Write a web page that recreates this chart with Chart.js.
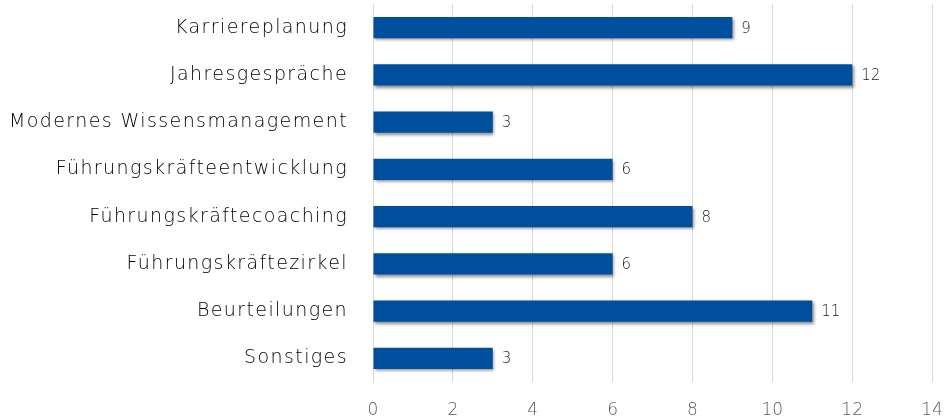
<!DOCTYPE html>
<html><head><meta charset="utf-8">
<script src="https://cdn.jsdelivr.net/npm/chart.js@4"></script>
<style>html,body{margin:0;padding:0;background:#fff}#w{width:945px;height:420px}</style>
</head><body><div id="w"><canvas id="c"></canvas></div>
<script>
const categories = ["Karriereplanung","Jahresgespräche","Modernes Wissensmanagement","Führungskräfteentwicklung","Führungskräftecoaching","Führungskräftezirkel","Beurteilungen","Sonstiges"];
const values = [9,12,3,6,8,6,11,3];
const xTicks = [0,2,4,6,8,10,12,14];

const shadowPlugin = {
  id:'shadow',
  beforeDatasetDraw(chart){const c=chart.ctx;c.save();c.shadowColor='rgba(0,0,0,0.45)';c.shadowBlur=3;c.shadowOffsetX=1.5;c.shadowOffsetY=2;},
  afterDatasetDraw(chart){chart.ctx.restore();}
};
const labelPlugin = {
  id:'vals',
  afterDatasetsDraw(chart){
    const c=chart.ctx, meta=chart.getDatasetMeta(0);
    c.save();c.font='200 15px "DejaVu Sans"';c.fillStyle='#222222';c.textBaseline='middle';c.textAlign='left';
    meta.data.forEach((b,i)=>{c.fillText(String(values[i]), b.x+9, b.y+1);});
    c.restore();
  }
};
function spaced(s, px){
  if (s._spacedPatched) return;
  const orig = Object.getPrototypeOf(s).drawLabels;
  s.drawLabels = function(area){
    const c=this.ctx; c.save(); c.letterSpacing=px; orig.call(this,area); c.restore();
  };
  s._spacedPatched = true;
}
new Chart(document.getElementById('c'),{
  type:'bar',
  data:{labels:categories,datasets:[{data:values,backgroundColor:'#004f9f',barPercentage:0.9,categoryPercentage:0.5}]},
  options:{
    indexAxis:'y',responsive:true,maintainAspectRatio:false,animation:false,
    layout:{padding:{top:4,right:13,bottom:0,left:0}},
    plugins:{legend:{display:false},tooltip:{enabled:false}},
    scales:{
      x:{min:0,max:14,afterBuildTicks(s){s.ticks=xTicks.map(v=>({value:v}));},
         afterFit(s){s.height=38;s.paddingLeft=0;s.paddingRight=0;},
         border:{display:false},
         grid:{color:'#d9d9d9',drawTicks:false},
         ticks:{padding:18,color:'#595959',maxRotation:0,font:{family:'DejaVu Sans',size:17,weight:'200'}}},
      y:{afterFit(s){s.width=373;s.paddingTop=0;s.paddingBottom=0;spaced(s,'1.4px');},
         border:{display:true,color:'#d9d9d9'},
         grid:{display:false,drawTicks:false},
         ticks:{padding:25,color:'#000000',font:{family:'DejaVu Sans',size:19,weight:'200'}}}
    }
  },
  plugins:[shadowPlugin,labelPlugin]
});
</script></body></html>
